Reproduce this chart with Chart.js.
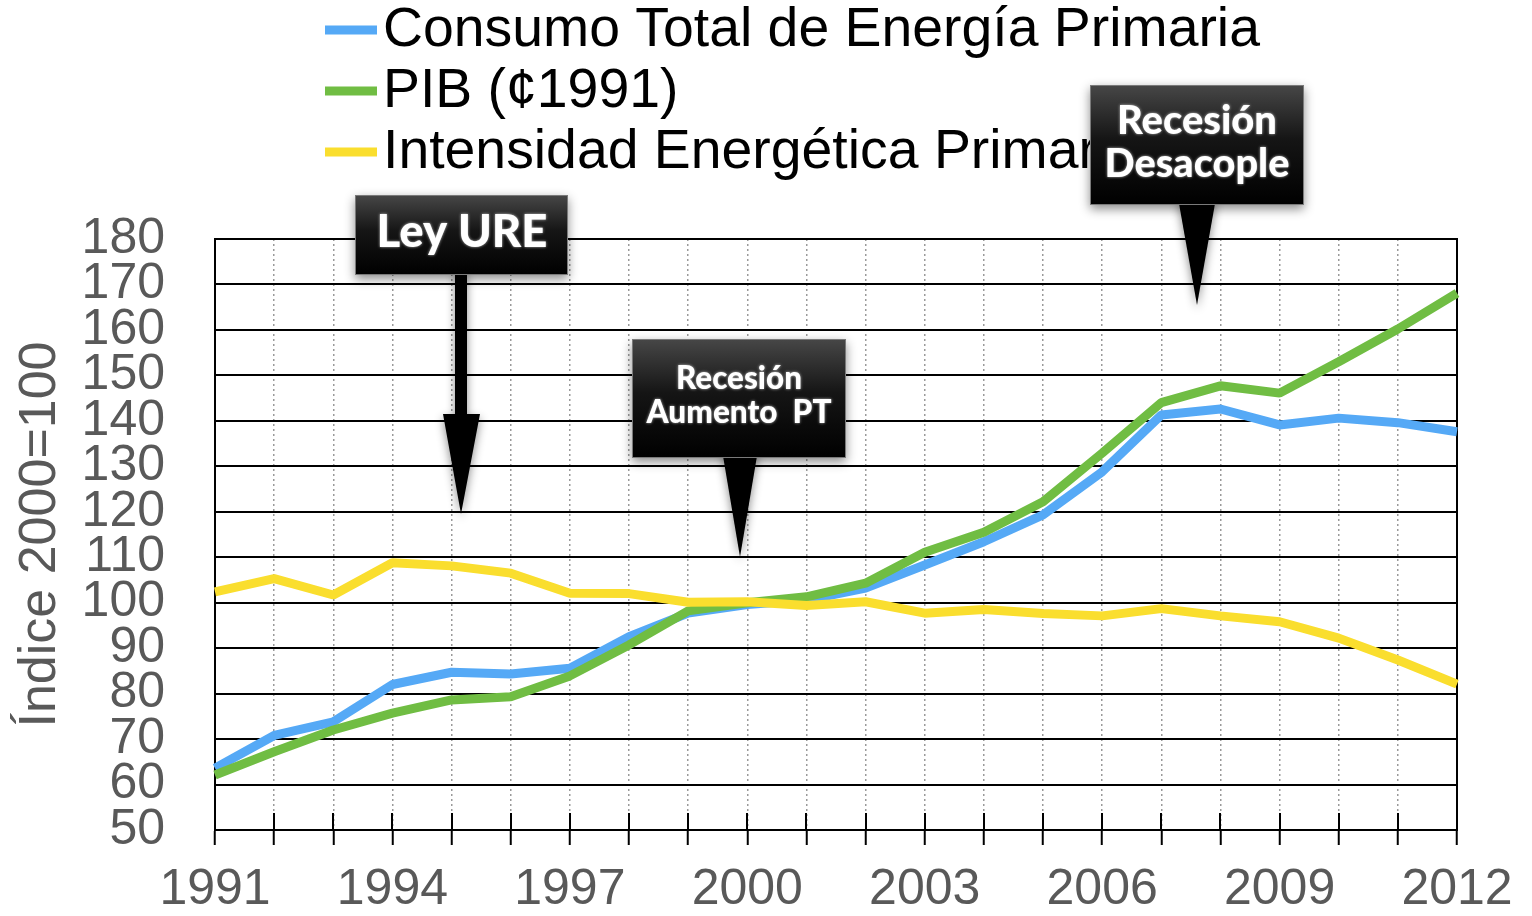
<!DOCTYPE html>
<html>
<head>
<meta charset="utf-8">
<script src="https://cdn.jsdelivr.net/npm/chart.js@4"></script>
<style>
  html, body { margin: 0; padding: 0; background: #fff; }
  #wrap { width: 1532px; height: 916px; }
</style>
</head>
<body>
<div id="wrap"><canvas id="mainChart" width="1532" height="916"></canvas></div>
<script>
const years = ['1991', '1992', '1993', '1994', '1995', '1996', '1997', '1998', '1999', '2000', '2001',
    '2002', '2003', '2004', '2005', '2006', '2007', '2008', '2009', '2010', '2011', '2012'];

const consumo = [63.6, 70.8, 73.8, 82.0, 84.7, 84.3, 85.6, 92.5, 97.7, 99.6, 100.6,
    103.2, 108.3, 113.4, 119.3, 128.8, 141.3, 142.6, 139.1, 140.6, 139.6, 137.6];
const pib = [62.1, 67.2, 72.0, 75.7, 78.6, 79.3, 83.9, 90.7, 98.2, 100.0, 101.3,
    104.3, 111.1, 115.5, 122.2, 132.9, 144.0, 147.7, 146.1, 153.0, 160.2, 168.1];
const intensidad = [102.4, 105.3, 101.7, 108.8, 108.1, 106.5, 102.1, 102.0, 100.1, 100.2, 99.4,
    100.2, 97.7, 98.5, 97.6, 97.1, 98.7, 97.1, 95.8, 92.2, 87.4, 82.1];

const seriesNames = ['Consumo Total de Energía Primaria', 'PIB (¢1991)', 'Intensidad Energética Primaria'];
const seriesColors = ['#55a9f6', '#70bd43', '#fade2e'];

const GRAY = '#595959';
const FONT = '"Liberation Sans", Arial, sans-serif';
const CALLOUT_FONT = 'Lato, "Open Sans", sans-serif';
const CALLOUT_WEIGHT = '900';

// fits a string into a given width, returns font size
function fitSize(ctx, text, weight, family, width) {
    ctx.font = `${weight} 100px ${family}`;
    return 100 * width / ctx.measureText(text).width;
}

function calloutText(ctx, text, cx, cy, width) {
    const size = fitSize(ctx, text, CALLOUT_WEIGHT, CALLOUT_FONT, width);
    ctx.save();
    ctx.font = `${CALLOUT_WEIGHT} ${size}px ${CALLOUT_FONT}`;
    ctx.textAlign = 'center';
    ctx.textBaseline = 'middle';
    ctx.shadowColor = 'rgba(255,255,255,0.7)';
    ctx.shadowBlur = 3;
    ctx.fillStyle = '#fff';
    ctx.fillText(text, cx, cy);
    ctx.restore();
}

function calloutBox(ctx, x, y, w, h, pointer) {
    ctx.save();
    ctx.shadowColor = 'rgba(0,0,0,0.45)';
    ctx.shadowBlur = 10;
    ctx.shadowOffsetY = 4;
    ctx.fillStyle = '#000';
    ctx.beginPath();
    pointer(ctx);
    ctx.fill();
    const g = ctx.createLinearGradient(0, y, 0, y + h);
    g.addColorStop(0, '#474747');
    g.addColorStop(0.45, '#151515');
    g.addColorStop(1, '#000');
    ctx.fillStyle = g;
    ctx.fillRect(x, y, w, h);
    ctx.restore();
    ctx.save();
    ctx.strokeStyle = '#7a7a7a';
    ctx.lineWidth = 1;
    ctx.strokeRect(x + 0.5, y + 0.5, w - 1, h - 1);
    ctx.restore();
}

const framePlugin = {
    id: 'frame',
    beforeDatasetsDraw(chart) {
        const { ctx, chartArea: a, scales } = chart;
        ctx.save();
        ctx.strokeStyle = '#000';
        ctx.lineWidth = 2;
        ctx.strokeRect(a.left, a.top, a.right - a.left, a.bottom - a.top);
        // tick marks crossing the bottom axis
        years.forEach((y, i) => {
            const px = Math.round(scales.x.getPixelForValue(i));
            ctx.beginPath();
            ctx.moveTo(px, a.bottom - 17);
            ctx.lineTo(px, a.bottom);
            ctx.stroke();
        });
        ctx.restore();
    }
};

const overlayPlugin = {
    id: 'overlay',
    afterDraw(chart) {
        const ctx = chart.ctx;

        // legend
        const legendSize = fitSize(ctx, seriesNames[0], 'normal', FONT, 877);
        const rows = [30, 91, 152];
        chart.data.datasets.forEach((ds, i) => {
            ctx.save();
            ctx.fillStyle = ds.borderColor;
            ctx.fillRect(325, rows[i] - 4.5, 52, 9);
            ctx.fillStyle = '#000';
            ctx.font = `${legendSize}px ${FONT}`;
            ctx.textBaseline = 'middle';
            ctx.fillText(ds.label, 383, rows[i] + 1);
            ctx.restore();
        });

        // Ley URE
        calloutBox(ctx, 355, 195, 213, 80, c => {
            c.rect(455, 270, 12, 146);
            c.moveTo(443, 414);
            c.lineTo(480, 414);
            c.lineTo(461, 514);
            c.closePath();
        });
        calloutText(ctx, 'Ley URE', 462, 232, 171);

        // Recesión / Aumento PT
        calloutBox(ctx, 632, 339, 214, 119, c => {
            c.moveTo(722, 450);
            c.lineTo(758, 450);
            c.lineTo(740, 557);
            c.closePath();
        });
        calloutText(ctx, 'Recesión', 739, 379, 126);
        calloutText(ctx, 'Aumento  PT', 739, 413, 185);

        // Recesión / Desacople
        calloutBox(ctx, 1090, 85, 214, 120, c => {
            c.moveTo(1178, 198);
            c.lineTo(1216, 198);
            c.lineTo(1197, 305);
            c.closePath();
        });
        calloutText(ctx, 'Recesión', 1197, 121, 160);
        calloutText(ctx, 'Desacople', 1197, 164, 185);
    }
};

const ctx = document.getElementById('mainChart').getContext('2d');
new Chart(ctx, {
    type: 'line',
    data: {
        labels: years,
        datasets: [consumo, pib, intensidad].map((values, i) => ({
            label: seriesNames[i],
            data: values,
            borderColor: seriesColors[i],
            backgroundColor: seriesColors[i],
            borderWidth: 9,
            borderJoinStyle: 'bevel',
            pointRadius: 0,
            tension: 0,
            fill: false,
            order: 3 - i
        }))
    },
    options: {
        responsive: false,
        animation: false,
        devicePixelRatio: 1,
        layout: { padding: { top: 239, right: 75, left: 0, bottom: 0 } },
        plugins: {
            legend: { display: false },
            tooltip: { enabled: false }
        },
        scales: {
            x: {
                offset: false,
                afterFit: s => { s.height = 86; },
                grid: {
                    color: '#9a9a9a',
                    lineWidth: 1.5,
                    drawTicks: true,
                    tickLength: 15,
                    tickColor: '#000',
                    tickWidth: 2
                },
                border: { display: true, color: '#000', width: 2, dash: [2, 3] },
                ticks: {
                    autoSkip: false,
                    maxRotation: 0,
                    padding: 15,
                    color: GRAY,
                    font: { family: FONT, size: 50 },
                    callback: (v, i) => (i % 3 === 0 ? years[i] : '')
                }
            },
            y: {
                min: 50,
                max: 180,
                afterFit: s => { s.width = 215; },
                grid: { color: '#000', lineWidth: 2, drawTicks: false },
                border: { display: true, color: '#000', width: 2 },
                ticks: {
                    stepSize: 10,
                    autoSkip: false,
                    padding: 50,
                    color: GRAY,
                    font: { family: FONT, size: 50 }
                },
                title: {
                    display: true,
                    text: 'Índice 2000=100',
                    color: GRAY,
                    font: { family: FONT, size: 52 },
                    padding: { top: 9, bottom: 0 }
                }
            }
        }
    },
    plugins: [framePlugin, overlayPlugin]
});
</script>
</body>
</html>
